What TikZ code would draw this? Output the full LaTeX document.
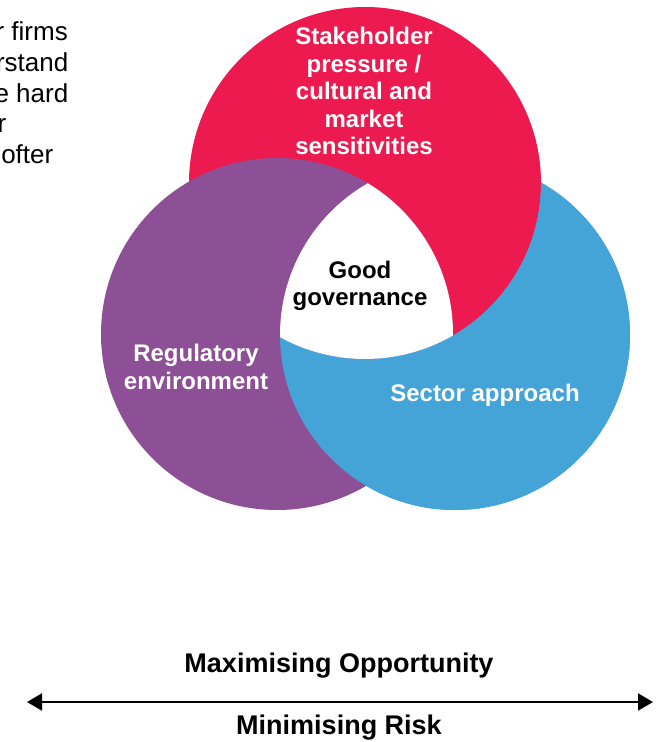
\documentclass[tikz,border=0pt]{standalone}
\usepackage{fontspec}
\setmainfont{Liberation Sans}
\usetikzlibrary{arrows.meta}
\definecolor{cred}{HTML}{EC1A4F}
\definecolor{cpurple}{HTML}{8D4F95}
\definecolor{cblue}{HTML}{45A4D7}
\begin{document}
\begin{tikzpicture}[x=1pt,y=-1pt,
  lab/.style={font=\bfseries\fontsize{24}{27.5}\selectfont, align=center, text=white, inner sep=0pt},
  darklab/.style={lab, text=black},
  bottomlab/.style={font=\bfseries\fontsize{27}{30}\selectfont, text=black, inner sep=0pt},
  sidetext/.style={font=\fontsize{26}{30}\selectfont, text=black, inner sep=0pt, anchor=base east},
  axis/.style={line width=2pt, {Triangle[length=15pt,width=17pt]}-{Triangle[length=15pt,width=17pt]}}]
\useasboundingbox (0,0) rectangle (657,742);
\clip (0,0) rectangle (657,742);
% circles: cyclic overlap (purple over red, blue over purple, red over blue)
\fill[cblue] (455,335) circle (175pt);
\fill[cred] (365,183) circle (176pt);
\fill[cpurple] (277,334) circle (176pt);
\begin{scope}
  \clip (455,335) circle (175pt);
  \fill[cblue, even odd rule] (0,0) rectangle (657,742) (365,183) circle (176pt);
\end{scope}
\begin{scope}
  \clip (365,183) circle (176pt);
  \clip (455,335) circle (175pt);
  \clip (277,334) circle (176pt);
  \fill[white] (0,0) rectangle (657,742);
\end{scope}
% labels
\node[lab] (stake) at (364,91) {Stakeholder\\pressure /\\cultural and\\market\\sensitivities};
\node[darklab] (good) at (360,286) {Good\\governance};
\node[lab] (reg) at (196,367) {Regulatory\\environment};
\node[lab] (sector) at (485,395) {Sector approach};
% side text, cut off at the picture's left edge as in the reference
\node[sidetext] (t1) at (68,40.5) {r firms};
\node[sidetext] (t2) at (68.5,71.5) {rstand};
\node[sidetext] (t3) at (68.5,102) {e hard};
\node[sidetext] (t4) at (6.5,132.5) {r};
\node[sidetext] (t5) at (53.5,163) {ofter};
% axis
\node[bottomlab] (max) at (339,666) {Maximising Opportunity};
\node[bottomlab] (min) at (339,728) {Minimising Risk};
\coordinate (L) at (27,702);
\coordinate (R) at (653,702);
\draw[axis] (L) -- (R);
\end{tikzpicture}
\end{document}
